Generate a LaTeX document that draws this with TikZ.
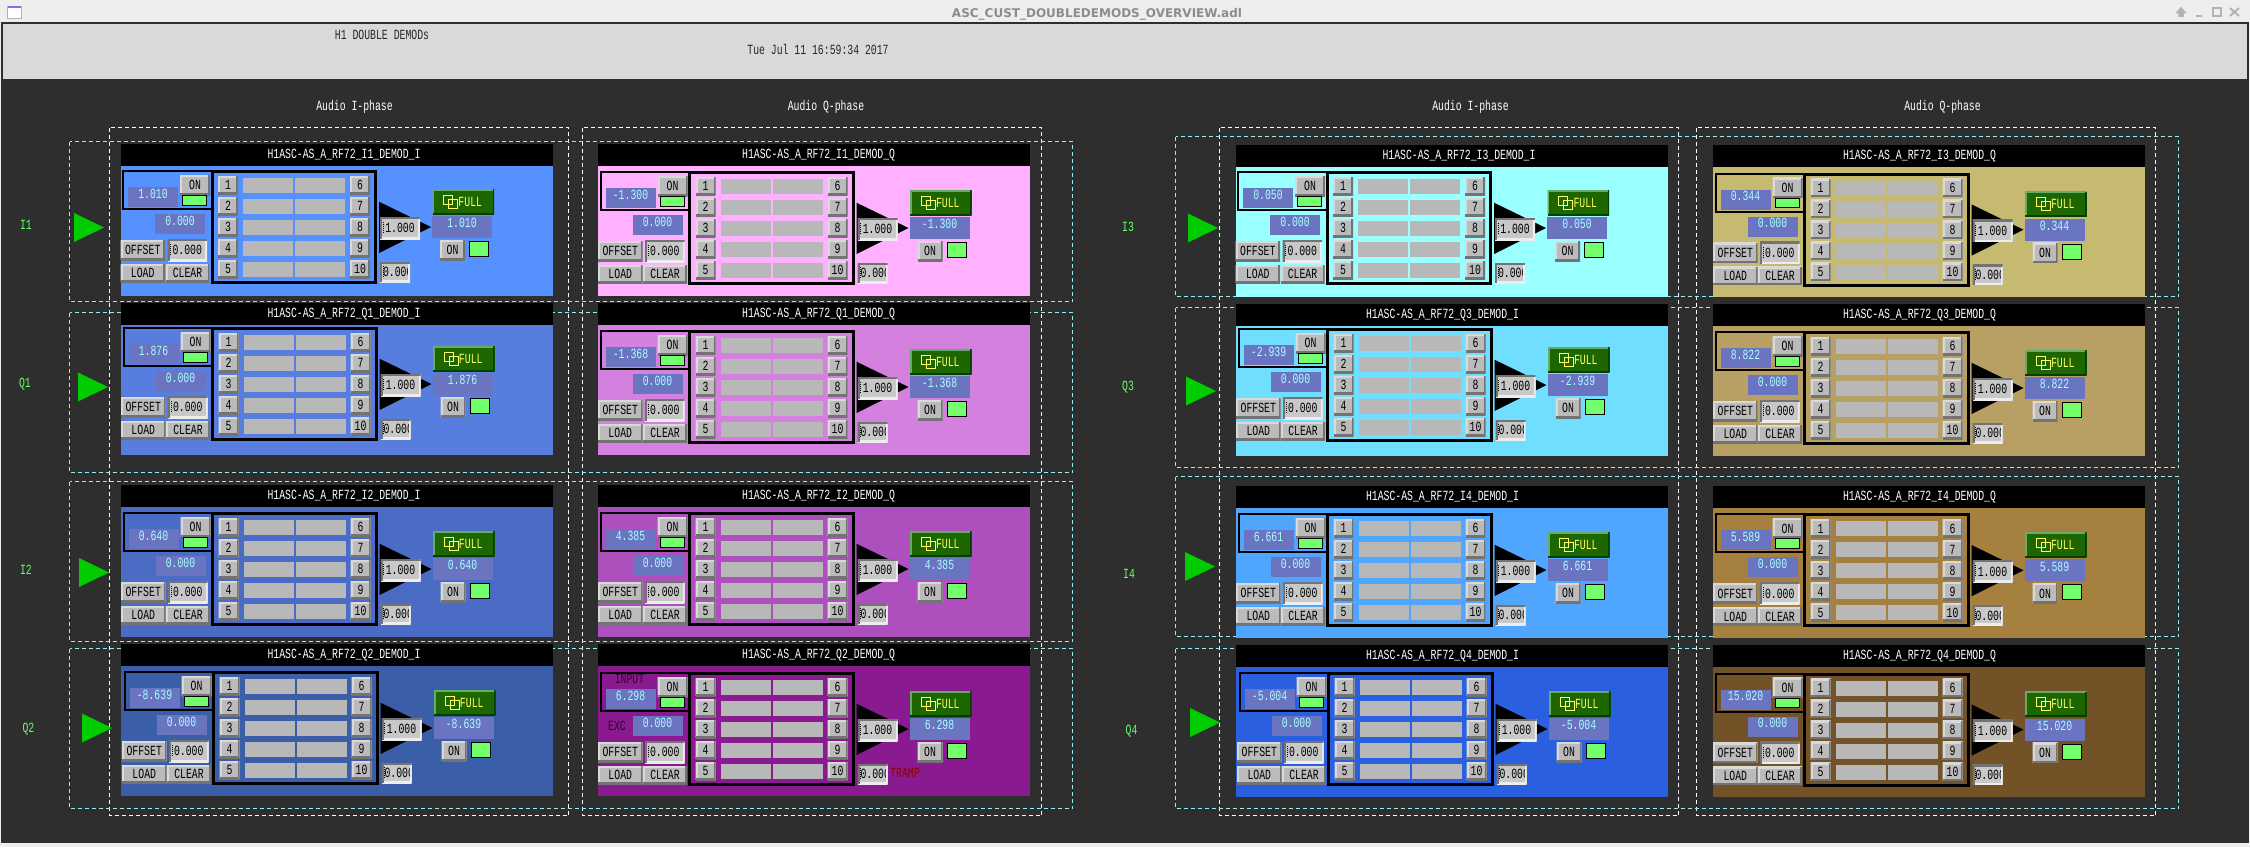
\documentclass[tikz,border=0pt]{standalone}
\usepackage{fontspec}
\newfontfamily\xfont[FakeStretch=0.7]{Liberation Mono}
\newfontfamily\barfont{DejaVu Sans}
\usetikzlibrary{positioning}

\definecolor{screenbg}{HTML}{2E2E2E}
\definecolor{headbg}{HTML}{D9D9D9}
\definecolor{barbg}{HTML}{EEEEEC}
\definecolor{valbg}{HTML}{6A74C0}
\definecolor{valtxt}{HTML}{A8FFFF}
\definecolor{btnbg}{HTML}{BBBBBB}
\definecolor{entrybg}{HTML}{C8C8C8}
\definecolor{cellbg}{HTML}{B8B8B8}
\definecolor{lamp}{HTML}{73FF6B}
\definecolor{srcgreen}{HTML}{00CC00}
\definecolor{lbltxt}{HTML}{66FF66}
\definecolor{fullbg}{HTML}{1E6600}
\definecolor{fulltxt}{HTML}{FFFF66}
\definecolor{dashcyan}{HTML}{8FF0F0}
\definecolor{pAI}{HTML}{5591FF}
\definecolor{pAQ}{HTML}{577EDF}
\definecolor{pAJ}{HTML}{4A6CC4}
\definecolor{pAR}{HTML}{3A5EA8}
\definecolor{pBI}{HTML}{FFB0FF}
\definecolor{pBQ}{HTML}{D480DF}
\definecolor{pBJ}{HTML}{AD50BD}
\definecolor{pBR}{HTML}{8A1A90}
\definecolor{pCI}{HTML}{99FFFF}
\definecolor{pCQ}{HTML}{70DFFF}
\definecolor{pCJ}{HTML}{50A5FF}
\definecolor{pCR}{HTML}{2A60E0}
\definecolor{pDI}{HTML}{C5BA70}
\definecolor{pDQ}{HTML}{B8A065}
\definecolor{pDJ}{HTML}{A5803F}
\definecolor{pDR}{HTML}{745228}

\begin{document}
\begin{tikzpicture}[
    x=1pt, y=-1pt,
    every node/.style={inner sep=0pt, outer sep=0pt, font=\xfont\fontsize{14}{14}\selectfont, text height=9.5pt, text depth=0pt},
    plaintxt/.style={text=white},
    valbox/.style={anchor=north west, fill=valbg, text=valtxt, minimum width=#1, minimum height=20pt, text depth=7.5pt},
    btn/.style={anchor=north west, fill=btnbg, text=black, path picture={
        \draw[line width=4pt, white!85!black] (path picture bounding box.south west) -- (path picture bounding box.north west) -- (path picture bounding box.north east);
        \draw[line width=4pt, black!55] (path picture bounding box.south west) -- (path picture bounding box.south east) -- (path picture bounding box.north east);}},
    entry/.style={anchor=north west, fill=entrybg, text=black, align=left, path picture={
        \draw[line width=4pt, white!93!black] (path picture bounding box.south west) -- (path picture bounding box.south east) -- (path picture bounding box.north east);
        \draw[line width=4pt, black!55] (path picture bounding box.south west) -- (path picture bounding box.north west) -- (path picture bounding box.north east);
        \draw[line width=1pt, black, dash pattern=on 1pt off 1pt] ([xshift=3pt,yshift=6pt]path picture bounding box.west) -- ([xshift=3pt,yshift=-6pt]path picture bounding box.west);}},
    lampbox/.style={anchor=north west, fill=lamp, draw=black, line width=1pt},
    outerdash/.style={draw=white, line width=1pt, dash pattern=on 4pt off 3pt},
    rowdash/.style={draw=dashcyan, line width=1pt, dash pattern=on 4pt off 3pt}
]
\useasboundingbox (0,0) rectangle (2250,847);

% Window
\fill[screenbg] (0,0) rectangle (2250,847);
\fill[barbg] (0,0) rectangle (2250,22);
\fill[headbg] (3,24) rectangle (2247,79);
\fill[barbg] (0,843) rectangle (2250,847);
\fill[barbg] (0,22) rectangle (1,843);
\fill[barbg] (2249,22) rectangle (2250,843);
\node[font=\barfont\bfseries\fontsize{12}{12}\selectfont, text=black!45, text height=9.5pt] (wintitle) at (1097,13) {ASC\_CUST\_DOUBLEDEMODS\_OVERVIEW.adl};
\fill[white, draw=black!30] (7,6) rectangle (21,18);
\fill[blue!55!white] (7.5,6) rectangle (20.5,8);
\draw[black!30, line width=1.5pt, fill=black!30] (2181,8) -- (2185,12.5) -- (2183,12.5) -- (2183,16) -- (2179,16) -- (2179,12.5) -- (2177,12.5) -- cycle;
\draw[black!30, line width=2pt] (2196,16) -- (2202,16);
\draw[black!30, line width=1.5pt] (2213,8) rectangle (2221,16);
\draw[black!30, line width=2pt] (2230,8) -- (2239,16) (2239,8) -- (2230,16);

% Header texts
\node[text=black!85] (maintitle) at (382,35) {H1 DOUBLE DEMODs};
\node[text=black!85] (datetime) at (818,49.5) {Tue Jul 11 16:59:34 2017};
\foreach \cname/\ctxt/\cx in {ia/Audio I-phase/354.5, qa/Audio Q-phase/826, ib/Audio I-phase/1470.5, qb/Audio Q-phase/1942.5}
    \node[plaintxt] (head\cname) at (\cx,106) {\ctxt};

% Dashed frames
\foreach \xa/\xb in {109.5/568.5, 582.5/1041.5, 1219.5/1678.5, 1696.5/2155.5}
    \draw[outerdash] (\xa,127.5) rectangle (\xb,815.5);
\foreach \ya/\yb in {141.5/301.5, 312.5/472.5, 481.5/641.5, 648.5/808.5}
    \draw[rowdash] (69.5,\ya) rectangle (1072.5,\yb);
\foreach \ya/\yb in {136.5/296.5, 307.5/467.5, 476.5/636.5, 648.5/808.5}
    \draw[rowdash] (1175.5,\ya) rectangle (2178.5,\yb);

% Row labels and source triangles
\foreach \lbl/\lx/\ly/\tx/\ty in {I1/26/225/74/227.5, Q1/25/383/78/387, I2/26/570/79/572.5, Q2/28.5/728/82/728,
    I3/1128/227/1188/228, Q3/1128/386/1186/391, I4/1129/574/1185/566.5, Q4/1131.5/730/1190/722.5} {
    \node[text=lbltxt] (lbl\lbl) at (\lx,\ly) {\lbl};
    \fill[srcgreen] (\tx,\ty-14.5) -- (\tx+30,\ty) -- (\tx,\ty+14.5) -- cycle;
}

% Panels
\foreach \ch/\ph/\px/\hy/\mx/\my/\col/\tx/\val in {
    I1/I/121/144/210.5/170/pAI/344/1.010, Q1/I/121/303/211/327/pAQ/344/1.876, I2/I/121/485/211/512/pAJ/344/0.640, Q2/I/121/644/212/671/pAR/344/-8.639,
    I1/Q/598/144/688/171/pBI/818.6/-1.300, Q1/Q/598/303/688/330/pBQ/818.6/-1.368, I2/Q/598/485/688/512/pBJ/818.6/4.385, Q2/Q/598/644/688/672/pBR/818.6/6.298,
    I3/I/1236/145/1325.5/171/pCI/1459/0.050, Q3/I/1236/304/1326/328/pCQ/1442.5/-2.939, I4/I/1236/486/1326/513/pCJ/1442.5/6.661, Q4/I/1236/645/1327/672/pCR/1442.5/-5.004,
    I3/Q/1713/145/1803/172.7/pDI/1919.5/0.344, Q3/Q/1713/304/1803/331/pDQ/1919.5/8.822, I4/Q/1713/486/1803/513.3/pDJ/1919.5/5.589, Q4/Q/1713/645/1803/672.7/pDR/1919.5/15.020} {
    \fill[\col] (\px,\hy) rectangle (\px+432,\hy+151.5);
    \fill[black] (\px,\hy) rectangle (\px+432,\hy+21.5);
    \node[plaintxt] (title\ch\ph) at (\tx,\hy+10) {H1ASC-AS\_A\_RF72\_\ch\_DEMOD\_\ph};
    \begin{scope}[shift={(\mx,\my)}]
        % Input block
        \draw[line width=2pt] (0,1) -- (-87.5,1) -- (-87.5,39) -- (0,39);
        \node[valbox=50pt] (val\ch\ph) at (-82.5,17) {\val};
        \node[btn, minimum width=30pt, minimum height=20pt] (on\ch\ph) at (-30.5,5) {ON};
        \node[lampbox, minimum width=24pt, minimum height=9pt] (lamp\ch\ph) at (-28,25.5) {};
        \node[valbox=50pt] (exc\ch\ph) at (-55.5,44) {0.000};
        \node[btn, minimum width=44.5pt, minimum height=20pt] (off\ch\ph) at (-90,70) {OFFSET};
        \node[entry, minimum width=39.5pt, minimum height=22pt] (offval\ch\ph) at (-43,69) {0.000};
        \node[btn, minimum width=44.5pt, minimum height=18pt] (load\ch\ph) at (-90,94) {LOAD};
        \node[btn, minimum width=44pt, minimum height=18pt] (clear\ch\ph) at (-45,94) {CLEAR};
        % Filter bank
        \draw[line width=3pt] (1.5,1.5) rectangle (165,112.5);
        \foreach \n in {1,...,5} {
            \pgfmathtruncatemacro{\m}{\n+5}
            \pgfmathsetmacro{\rowy}{6+(\n-1)*21}
            \node[btn, minimum width=20pt, minimum height=18pt] (fa\ch\ph\n) at (7.5,\rowy) {\n};
            \fill[cellbg] (32.5,\rowy+2) rectangle (82.5,\rowy+17);
            \fill[cellbg] (84.5,\rowy+2) rectangle (134.5,\rowy+17);
            \node[btn, minimum width=20pt, minimum height=18pt] (fb\ch\ph\n) at (139.5,\rowy) {\m};
        }
        % Gain
        \fill[black] (168.5,31.7) -- (220.5,57) -- (168.5,83) -- cycle;
        \node[entry, minimum width=40pt, minimum height=22pt] (gain\ch\ph) at (169.5,47) {1.000};
        \node[entry, minimum width=30pt, minimum height=20pt] (ramp\ch\ph) at (169.5,92) {};
        \begin{scope}
            \clip (169.5,92) rectangle (197,112);
            \node[anchor=west, text=black] (ramptxt\ch\ph) at (172.5,102) {0.000};
        \end{scope}
        % Output
        \node[anchor=north west, fill=fullbg, minimum width=61.5pt, minimum height=25pt, text=fulltxt, path picture={
            \draw[line width=3pt, green!45!black!60!white] (path picture bounding box.south west) -- (path picture bounding box.north west) -- (path picture bounding box.north east);
            \draw[line width=3pt, black!75!green] (path picture bounding box.south west) -- (path picture bounding box.south east) -- (path picture bounding box.north east);}] (full\ch\ph) at (222,19) {\hspace{14pt}FULL};
        \draw[fulltxt, line width=1pt] (233,25) rectangle (242,34) (238,29) rectangle (247,38);
        \node[valbox=60pt, minimum height=22pt, text depth=8pt] (out\ch\ph) at (221.5,46) {\val};
        \node[btn, minimum width=25pt, minimum height=20pt] (onb\ch\ph) at (229.5,70) {ON};
        \node[lampbox, minimum width=19pt, minimum height=15pt] (lampb\ch\ph) at (259,71.5) {};
    \end{scope}
}

% Extra labels
\node[text=black!70!pBR] (inputlbl) at (629.5,679) {INPUT};
\node[text=black!70!pBR] (exclbl) at (617,726) {EXC};
\node[text=red!55!black] (tramplbl) at (905,773) {TRAMP};

\end{tikzpicture}
\end{document}
